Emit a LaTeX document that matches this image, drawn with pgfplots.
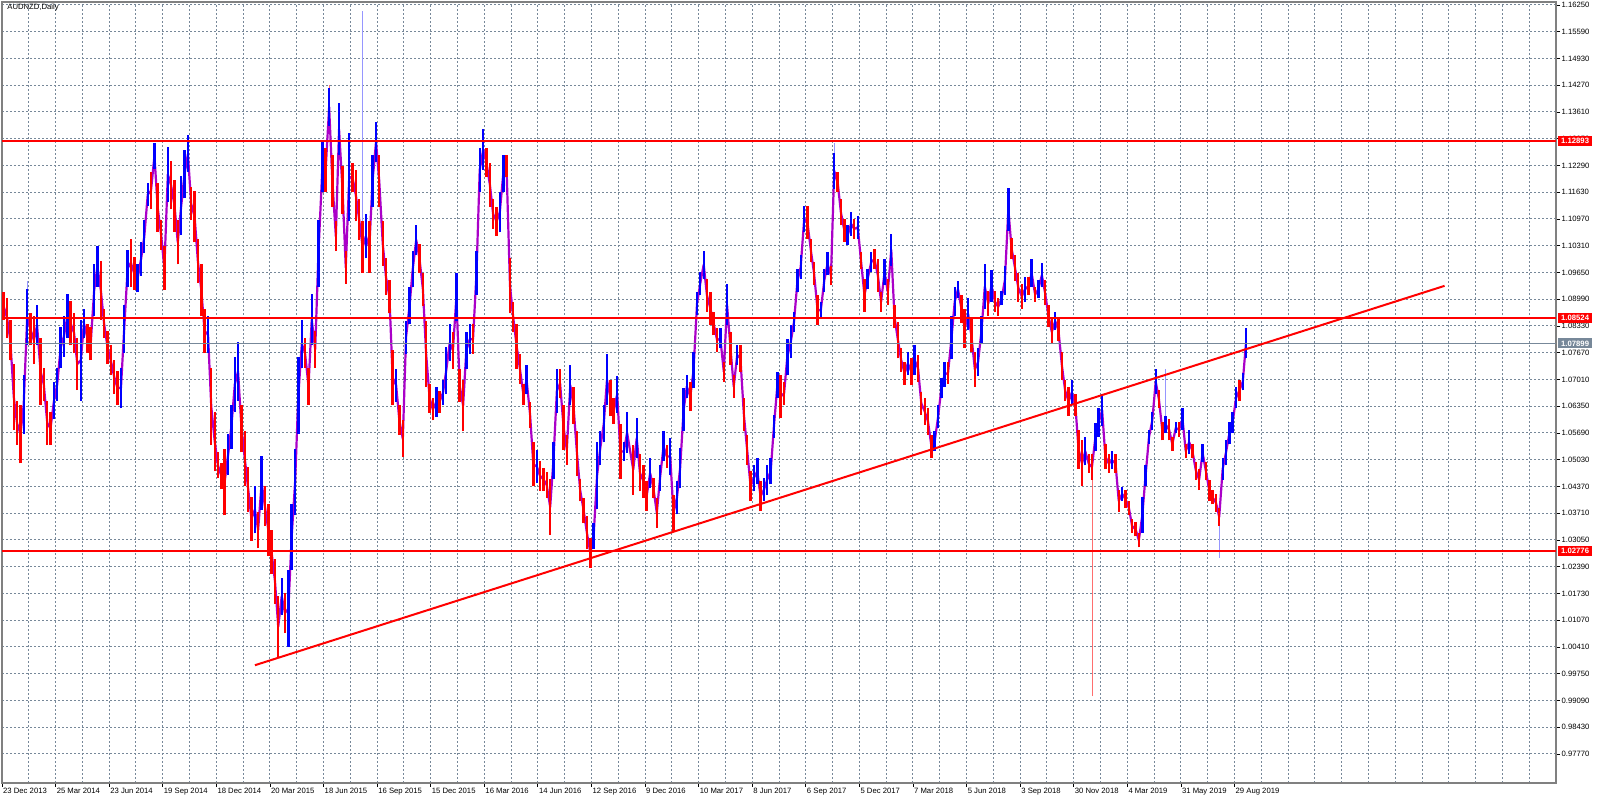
\documentclass[border=0pt]{standalone}
\usepackage{fontspec}
\setmainfont{Liberation Sans}
\usepackage{pgfplots}
\usepackage{pgfplotstable}
\pgfplotsset{compat=1.18}
\definecolor{cblue}{RGB}{0,0,255}
\definecolor{cred}{RGB}{255,0,0}
\definecolor{cmag}{RGB}{170,0,200}
\definecolor{gridc}{RGB}{119,136,153}
\definecolor{axisc}{RGB}{128,128,128}
\definecolor{lblue}{RGB}{150,150,255}
\definecolor{lred}{RGB}{255,110,110}
\newcommand{\tfont}{\fontsize{3.85pt}{4.5pt}\selectfont}

\pgfplotstableread{
g lo hi c
0.06 1.0848 1.0916 0
0.19 1.0803 1.0903 0
0.31 1.0748 1.0848 0
0.44 1.0576 1.0739 0
0.56 1.0539 1.0648 0
0.69 1.0494 1.0639 0
0.81 1.0566 1.0712 1
0.94 1.0785 1.0925 1
1.06 1.0785 1.0866 0
1.19 1.0739 1.0857 0
1.31 1.0785 1.0884 1
1.44 1.0639 1.0803 0
1.56 1.0648 1.0730 0
1.69 1.0539 1.0648 0
1.81 1.0539 1.0621 0
1.94 1.0603 1.0694 1
2.06 1.0648 1.0730 1
2.19 1.0730 1.0830 1
2.31 1.0757 1.0857 1
2.44 1.0803 1.0912 1
2.56 1.0785 1.0894 0
2.69 1.0766 1.0866 0
2.81 1.0675 1.0803 0
2.94 1.0648 1.0848 1
3.06 1.0803 1.0875 1
3.19 1.0766 1.0839 0
3.31 1.0748 1.0830 0
3.44 1.0857 1.0985 1
3.56 1.0930 1.1030 1
3.69 1.0848 1.0994 0
3.81 1.0803 1.0875 0
3.94 1.0739 1.0821 0
4.06 1.0712 1.0785 0
4.19 1.0666 1.0748 0
4.31 1.0639 1.0721 0
4.44 1.0630 1.0730 1
4.56 1.0766 1.0884 1
4.69 1.0930 1.1021 1
4.81 1.0930 1.1048 0
4.94 1.0921 1.1003 0
5.06 1.0916 1.0985 1
5.19 1.0957 1.1039 1
5.31 1.1012 1.1094 1
5.44 1.1130 1.1185 1
5.56 1.1121 1.1212 0
5.69 1.1221 1.1285 1
5.81 1.1066 1.1185 0
5.94 1.1021 1.1094 0
6.06 1.0921 1.1030 0
6.19 1.1139 1.1275 1
6.31 1.1121 1.1239 0
6.44 1.1066 1.1194 0
6.56 1.0985 1.1094 0
6.69 1.1057 1.1203 1
6.81 1.1148 1.1266 1
6.94 1.1212 1.1303 1
7.06 1.1094 1.1175 0
7.19 1.1039 1.1166 0
7.31 1.0939 1.1048 0
7.44 1.0857 1.0985 0
7.56 1.0766 1.0875 0
7.69 1.0766 1.0857 1
7.81 1.0539 1.0730 0
7.94 1.0475 1.0621 0
8.06 1.0457 1.0521 0
8.19 1.0430 1.0494 0
8.31 1.0366 1.0530 0
8.44 1.0466 1.0566 1
8.56 1.0530 1.0639 1
8.69 1.0621 1.0757 1
8.81 1.0648 1.0794 1
8.94 1.0521 1.0639 0
9.06 1.0439 1.0575 0
9.19 1.0375 1.0485 0
9.31 1.0303 1.0412 0
9.44 1.0321 1.0439 1
9.56 1.0285 1.0375 0
9.69 1.0380 1.0512 1
9.81 1.0339 1.0439 0
9.94 1.0266 1.0394 0
10.06 1.0221 1.0330 0
10.19 1.0148 1.0257 0
10.31 1.0016 1.0166 0
10.44 1.0121 1.0212 1
10.56 1.0075 1.0175 0
10.69 1.0041 1.0230 1
10.81 1.0230 1.0394 1
10.94 1.0366 1.0530 1
11.06 1.0566 1.0757 1
11.19 1.0730 1.0848 1
11.31 1.0730 1.0803 0
11.44 1.0639 1.0730 0
11.56 1.0785 1.0912 1
11.69 1.0730 1.0821 0
11.81 1.0930 1.1094 1
11.96 1.1164 1.1291 1
12.08 1.1164 1.1273 0
12.21 1.1327 1.1420 1
12.33 1.1127 1.1255 0
12.46 1.1018 1.1091 0
12.58 1.1255 1.1382 1
12.71 1.1109 1.1228 0
12.83 1.0937 1.1018 0
12.96 1.1091 1.1309 1
13.08 1.1164 1.1236 0
13.21 1.1091 1.1218 0
13.33 1.1046 1.1146 0
13.46 1.0964 1.1091 0
13.58 1.1000 1.1109 1
13.71 1.0964 1.1091 0
13.83 1.1127 1.1255 1
13.96 1.1237 1.1337 1
14.08 1.1127 1.1255 0
14.21 1.0982 1.1091 0
14.33 1.0909 1.1000 0
14.46 1.0864 1.0946 0
14.58 1.0637 1.0773 0
14.71 1.0646 1.0728 1
14.83 1.0564 1.0637 0
14.96 1.0509 1.0600 0
15.08 1.0764 1.0846 1
15.21 1.0837 1.0928 1
15.33 1.0928 1.1018 1
15.46 1.1009 1.1082 1
15.58 1.0964 1.1036 0
15.71 1.0882 1.0964 0
15.83 1.0682 1.0846 0
15.96 1.0619 1.0691 0
16.08 1.0600 1.0655 0
16.21 1.0609 1.0682 1
16.33 1.0619 1.0673 0
16.46 1.0637 1.0700 1
16.58 1.0664 1.0782 1
16.71 1.0746 1.0837 1
16.83 1.0728 1.0818 0
16.96 1.0846 1.0964 1
17.08 1.0646 1.0728 0
17.21 1.0573 1.0700 0
17.33 1.0728 1.0818 1
17.46 1.0764 1.0837 1
17.58 1.0764 1.0837 0
17.71 1.0909 1.1018 1
17.83 1.1164 1.1273 1
17.96 1.1218 1.1318 1
18.08 1.1200 1.1273 0
18.21 1.1127 1.1236 0
18.33 1.1073 1.1146 0
18.46 1.1055 1.1127 0
18.58 1.1064 1.1164 1
18.71 1.1164 1.1255 1
18.83 1.1200 1.1255 0
18.96 1.0864 1.1000 0
19.08 1.0818 1.0891 0
19.21 1.0728 1.0837 0
19.33 1.0691 1.0764 0
19.46 1.0637 1.0691 0
19.58 1.0664 1.0736 1
19.71 1.0582 1.0646 0
19.83 1.0437 1.0546 0
19.96 1.0446 1.0527 1
20.08 1.0427 1.0500 0
20.21 1.0427 1.0482 0
20.33 1.0409 1.0473 0
20.46 1.0318 1.0455 0
20.58 1.0455 1.0546 1
20.71 1.0619 1.0728 1
20.83 1.0655 1.0728 0
20.96 1.0528 1.0637 0
21.08 1.0491 1.0564 0
21.21 1.0637 1.0737 1
21.33 1.0591 1.0682 0
21.46 1.0464 1.0573 0
21.58 1.0400 1.0455 0
21.71 1.0346 1.0409 0
21.83 1.0282 1.0364 0
21.96 1.0237 1.0309 0
22.08 1.0282 1.0346 1
22.21 1.0382 1.0546 1
22.33 1.0491 1.0573 1
22.46 1.0546 1.0637 1
22.58 1.0637 1.0764 1
22.71 1.0610 1.0700 0
22.83 1.0591 1.0655 0
22.96 1.0619 1.0710 1
23.08 1.0455 1.0591 0
23.21 1.0501 1.0546 1
23.33 1.0520 1.0620 1
23.56 1.0417 1.0540 0
23.69 1.0507 1.0606 1
23.81 1.0425 1.0516 0
23.94 1.0409 1.0491 0
24.06 1.0376 1.0450 0
24.19 1.0433 1.0507 1
24.31 1.0409 1.0458 0
24.44 1.0335 1.0409 0
24.56 1.0425 1.0491 1
24.69 1.0499 1.0573 1
24.81 1.0483 1.0540 0
24.94 1.0466 1.0556 1
25.06 1.0327 1.0417 0
25.19 1.0368 1.0450 1
25.31 1.0433 1.0532 1
25.44 1.0573 1.0679 1
25.56 1.0655 1.0712 1
25.69 1.0622 1.0696 0
25.81 1.0679 1.0769 1
25.94 1.0859 1.0917 1
26.06 1.0909 1.0966 1
26.19 1.0950 1.1019 1
26.31 1.0868 1.0950 0
26.44 1.0835 1.0917 0
26.56 1.0810 1.0868 0
26.69 1.0769 1.0827 0
26.81 1.0778 1.0827 1
26.94 1.0696 1.0745 0
27.06 1.0835 1.0937 1
27.19 1.0737 1.0818 0
27.31 1.0655 1.0712 0
27.44 1.0737 1.0786 1
27.56 1.0720 1.0786 0
27.69 1.0573 1.0655 0
27.81 1.0491 1.0565 0
27.94 1.0401 1.0474 0
28.06 1.0425 1.0491 1
28.19 1.0442 1.0507 1
28.31 1.0376 1.0450 0
28.44 1.0401 1.0458 1
28.56 1.0417 1.0491 1
28.69 1.0442 1.0507 1
28.81 1.0556 1.0614 1
28.94 1.0655 1.0720 1
29.06 1.0606 1.0712 0
29.19 1.0638 1.0696 0
29.31 1.0712 1.0802 1
29.44 1.0753 1.0835 1
29.56 1.0818 1.0868 1
29.69 1.0917 1.0974 1
29.81 1.0950 1.1007 1
29.94 1.1064 1.1130 1
30.06 1.1048 1.1130 0
30.19 1.0991 1.1048 0
30.31 1.0933 1.0991 0
30.44 1.0835 1.0909 0
30.56 1.0851 1.0892 1
30.69 1.0917 1.0974 1
30.81 1.0958 1.1015 1
30.94 1.0933 1.0982 0
31.06 1.1171 1.1261 1
31.19 1.1163 1.1212 0
31.31 1.1081 1.1146 0
31.44 1.1040 1.1097 0
31.56 1.1032 1.1081 1
31.69 1.1056 1.1114 1
31.81 1.1048 1.1097 0
31.94 1.1048 1.1105 1
32.06 1.0974 1.1015 0
32.19 1.0868 1.0950 0
32.31 1.0925 1.0974 1
32.44 1.0966 1.1015 1
32.56 1.0974 1.1023 0
32.69 1.0917 1.0999 0
32.81 1.0868 1.0917 0
32.94 1.0933 1.0999 1
33.06 1.0884 1.0950 0
33.19 1.0982 1.1060 1
33.31 1.0827 1.0884 0
33.44 1.0753 1.0843 0
33.56 1.0720 1.0778 0
33.69 1.0688 1.0745 0
33.81 1.0712 1.0769 1
33.94 1.0688 1.0753 0
34.06 1.0712 1.0786 1
34.19 1.0696 1.0761 0
34.31 1.0614 1.0671 0
34.44 1.0589 1.0655 0
34.56 1.0565 1.0630 0
34.69 1.0507 1.0565 0
34.81 1.0524 1.0573 1
34.94 1.0581 1.0638 1
35.06 1.0655 1.0704 1
35.18 1.0682 1.0744 1
35.31 1.0691 1.0744 0
35.44 1.0752 1.0858 1
35.56 1.0858 1.0930 1
35.68 1.0902 1.0945 1
35.81 1.0840 1.0910 0
35.93 1.0779 1.0875 0
36.06 1.0823 1.0902 1
36.18 1.0770 1.0849 0
36.31 1.0682 1.0770 0
36.43 1.0709 1.0779 1
36.56 1.0788 1.0858 1
36.68 1.0875 1.0985 1
36.81 1.0858 1.0919 0
36.93 1.0893 1.0972 1
37.06 1.0867 1.0919 0
37.18 1.0858 1.0902 0
37.31 1.0884 1.0919 1
37.43 1.0910 1.0981 1
37.56 1.1068 1.1174 1
37.68 1.0998 1.1051 0
37.81 1.0945 1.1007 0
37.93 1.0893 1.0963 0
38.06 1.0875 1.0937 0
38.18 1.0893 1.0954 1
38.31 1.0910 1.0954 0
38.43 1.0928 1.0998 1
38.56 1.0893 1.0928 0
38.68 1.0902 1.0946 1
38.81 1.0928 1.0989 1
38.93 1.0884 1.0946 0
39.06 1.0831 1.0884 0
39.18 1.0788 1.0849 0
39.31 1.0823 1.0867 1
39.43 1.0796 1.0849 0
39.56 1.0700 1.0770 0
39.68 1.0647 1.0700 0
39.81 1.0612 1.0682 0
39.93 1.0638 1.0700 1
40.06 1.0612 1.0665 0
40.18 1.0480 1.0577 0
40.31 1.0437 1.0551 0
40.43 1.0489 1.0559 1
40.56 1.0471 1.0516 0
40.68 1.0454 1.0516 0
40.81 1.0524 1.0594 1
40.93 1.0559 1.0630 1
41.06 1.0586 1.0665 1
41.18 1.0480 1.0542 0
41.31 1.0471 1.0516 0
41.43 1.0480 1.0524 1
41.56 1.0471 1.0516 0
41.68 1.0375 1.0428 0
41.81 1.0401 1.0436 1
41.93 1.0384 1.0428 0
42.06 1.0366 1.0401 0
42.18 1.0322 1.0357 0
42.31 1.0314 1.0349 0
42.43 1.0287 1.0322 0
42.56 1.0322 1.0410 1
42.68 1.0437 1.0489 1
42.81 1.0542 1.0577 1
42.93 1.0577 1.0621 1
43.06 1.0665 1.0726 1
43.18 1.0630 1.0674 0
43.31 1.0551 1.0595 0
43.43 1.0568 1.0612 1
43.56 1.0551 1.0603 0
43.68 1.0524 1.0559 0
43.81 1.0568 1.0595 1
43.93 1.0559 1.0595 0
44.06 1.0577 1.0630 1
44.18 1.0507 1.0542 0
44.31 1.0516 1.0577 1
44.43 1.0507 1.0542 0
44.56 1.0454 1.0498 0
44.68 1.0428 1.0480 0
44.81 1.0498 1.0542 1
44.93 1.0454 1.0498 0
45.06 1.0401 1.0454 0
45.18 1.0393 1.0428 0
45.31 1.0375 1.0419 0
45.43 1.0340 1.0384 0
45.56 1.0454 1.0507 1
45.68 1.0489 1.0551 1
45.81 1.0542 1.0595 1
45.93 1.0568 1.0621 1
46.06 1.0630 1.0682 1
46.18 1.0647 1.0700 0
46.31 1.0674 1.0717 1
46.43 1.0753 1.0829 1
}\candles

\pgfplotstableread{
g lo hi c
13.46 1.1090 1.1609 1
40.68 0.9920 1.0470 0
45.43 1.0261 1.0345 1
43.43 1.0612 1.0726 1
31.06 1.1255 1.1285 1
12.21 1.1380 1.1428 0
10.31 1.0016 1.0040 0
0.94 1.0920 1.0944 1
}\wicks

\begin{document}
\begin{tikzpicture}
\path[use as bounding box] (-1pt,-9pt) rectangle (799pt,391.5pt);
\begin{axis}[
  at={(0pt,0pt)}, anchor=south west,
  scale only axis, width=777pt, height=390.5pt,
  xmin=0, xmax=58, ymin=0.97054, ymax=1.16324,
  axis line style={draw=axisc, line width=0.6pt},
  xtick={0,2,...,46},
  xticklabels={23 Dec 2013,25 Mar 2014,23 Jun 2014,19 Sep 2014,18 Dec 2014,20 Mar 2015,18 Jun 2015,16 Sep 2015,15 Dec 2015,16 Mar 2016,14 Jun 2016,12 Sep 2016,9 Dec 2016,10 Mar 2017,8 Jun 2017,6 Sep 2017,5 Dec 2017,7 Mar 2018,5 Jun 2018,3 Sep 2018,30 Nov 2018,4 Mar 2019,31 May 2019,29 Aug 2019},
  minor xtick={1,...,57},
  xtick pos=bottom, xtick align=outside,
  ytick pos=right, ytick align=outside, yticklabel pos=right,
  major tick length=2pt, minor tick length=0pt,
  tick style={draw=black, line width=0.4pt},
  xmajorgrids, xminorgrids, ymajorgrids,
  grid style={draw=gridc, dash pattern=on 1pt off 1pt, line width=0.5pt},
  ytick={0.9777,0.9843,0.9909,0.9975,1.0041,1.0107,1.0173,1.0239,1.0305,1.0371,1.0437,1.0503,1.0569,1.0635,1.0701,1.0767,1.0833,1.0899,1.0965,1.1031,1.1097,1.1163,1.1229,1.1295,1.1361,1.1427,1.1493,1.1559,1.1625},
  yticklabels={0.97770,0.98430,0.99090,0.99750,1.00410,1.01070,1.01730,1.02390,1.03050,1.03710,1.04370,1.05030,1.05690,1.06350,1.07010,1.07670,1.08330,1.08990,1.09650,1.10310,1.10970,1.11630,1.12290,1.12950,1.13610,1.14270,1.14930,1.15590,1.16250},
  xticklabel style={font=\tfont, anchor=north west, inner sep=0.6pt, xshift=-0.2pt},
  yticklabel style={font=\tfont, anchor=west, inner sep=0.6pt},
]
% thin wicks
\addplot[draw=none, forget plot, restrict expr to domain={\thisrow{c}}{0.5:1.5},
  error bars/.cd, y dir=plus, y explicit, error mark=none,
  error bar style={draw=lblue, line width=0.45pt}]
  table[x=g, y=lo, y error plus expr=\thisrow{hi}-\thisrow{lo}] {\wicks};
\addplot[draw=none, forget plot, restrict expr to domain={\thisrow{c}}{-0.5:0.5},
  error bars/.cd, y dir=plus, y explicit, error mark=none,
  error bar style={draw=lred, line width=0.45pt}]
  table[x=g, y=lo, y error plus expr=\thisrow{hi}-\thisrow{lo}] {\wicks};
% intermediate days: the path through the mid prices
\addplot[draw=cmag, line width=1.1pt, line join=round, forget plot]
  table[x=g, y expr=(\thisrow{lo}+\thisrow{hi})/2] {\candles};
% candles: blue (up) and red (down)
\addplot[draw=none, forget plot, restrict expr to domain={\thisrow{c}}{0.5:1.5},
  error bars/.cd, y dir=plus, y explicit, error mark=none,
  error bar style={draw=cblue, line width=1.2pt}]
  table[x=g, y=lo, y error plus expr=\thisrow{hi}-\thisrow{lo}] {\candles};
\addplot[draw=none, forget plot, restrict expr to domain={\thisrow{c}}{-0.5:0.5},
  error bars/.cd, y dir=plus, y explicit, error mark=none,
  error bar style={draw=cred, line width=1.2pt}]
  table[x=g, y=lo, y error plus expr=\thisrow{hi}-\thisrow{lo}] {\candles};
% levels
\addplot[gridc, line width=0.5pt] coordinates {(0,1.07899) (58,1.07899)};
\addplot[cred, line width=1pt] coordinates {(0,1.12893) (58,1.12893)};
\addplot[cred, line width=1pt] coordinates {(0,1.08524) (58,1.08524)};
\addplot[cred, line width=1pt] coordinates {(0,1.02776) (58,1.02776)};
\addplot[cred, line width=1pt] coordinates {(9.44,0.9996) (53.84,1.0932)};
\coordinate (b1) at (axis cs:58,1.12893);
\coordinate (b2) at (axis cs:58,1.08524);
\coordinate (b3) at (axis cs:58,1.07899);
\coordinate (b4) at (axis cs:58,1.02776);
\end{axis}
\node[anchor=west, fill=cred, text=white, font=\tfont\bfseries, inner xsep=1.4pt, inner ysep=0.6pt, minimum height=5pt] at ([xshift=1pt]b1) {1.12893};
\node[anchor=west, fill=cred, text=white, font=\tfont\bfseries, inner xsep=1.4pt, inner ysep=0.6pt, minimum height=5pt] at ([xshift=1pt]b2) {1.08524};
\node[anchor=west, fill=gridc, text=white, font=\tfont\bfseries, inner xsep=1.4pt, inner ysep=0.6pt, minimum height=5pt] at ([xshift=1pt]b3) {1.07899};
\node[anchor=west, fill=cred, text=white, font=\tfont\bfseries, inner xsep=1.4pt, inner ysep=0.6pt, minimum height=5pt] at ([xshift=1pt]b4) {1.02776};
\node[anchor=north west, inner sep=0pt, font=\tfont] at (2.5pt,389.5pt) {AUDNZD,Daily};
\end{tikzpicture}
\end{document}
